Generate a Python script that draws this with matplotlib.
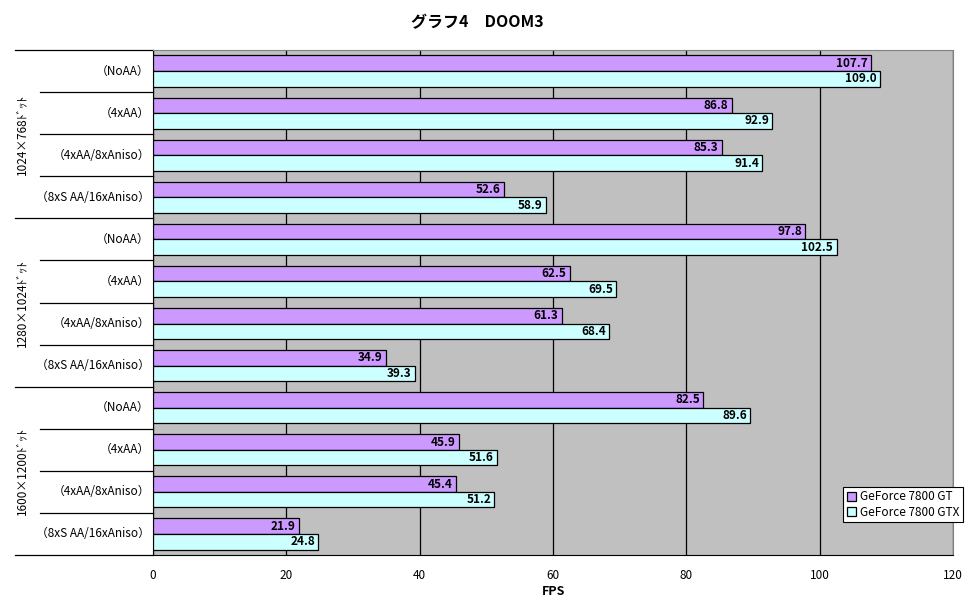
import matplotlib
matplotlib.use("Agg")
from matplotlib import pyplot as plt
from matplotlib import transforms
import numpy as np

plt.rcParams['font.family'] = ['Noto Sans CJK JP', 'DejaVu Sans']

groups = ['1024×768ﾄﾞｯﾄ', '1280×1024ﾄﾞｯﾄ', '1600×1200ﾄﾞｯﾄ']
settings = ['（NoAA）', '（4xAA）', '（4xAA/8xAniso）', '（8xS AA/16xAniso）']
gt = [107.7, 86.8, 85.3, 52.6,
      97.8, 62.5, 61.3, 34.9,
      82.5, 45.9, 45.4, 21.9]
gtx = [109.0, 92.9, 91.4, 58.9,
       102.5, 69.5, 68.4, 39.3,
       89.6, 51.6, 51.2, 24.8]
series_names = ['GeForce 7800 GT', 'GeForce 7800 GTX']

fig = plt.figure(figsize=(9.7, 6.04), dpi=100)
ax = fig.add_axes([0.1577, 0.0811, 0.825, 0.8361])
ax.set_facecolor('#C0C0C0')

n = len(gt)
y = np.arange(n)
h = 0.37
b1 = ax.barh(y - h / 2, gt, height=h, color='#CC99FF', edgecolor='black', linewidth=0.9,
             label=series_names[0], zorder=3)
b2 = ax.barh(y + h / 2, gtx, height=h, color='#CCFFFF', edgecolor='black', linewidth=0.9,
             label=series_names[1], zorder=3)

# value labels at bar ends
for bars, vals in ((b1, gt), (b2, gtx)):
    for r, v in zip(bars, vals):
        ax.text(v - 0.5, r.get_y() + r.get_height() / 2, '%.1f' % v, ha='right', va='center',
                fontsize=8.5, fontweight='bold', zorder=4)

ax.set_xlim(0, 120)
ax.set_ylim(n - 0.5, -0.5)
ax.set_xticks(np.arange(0, 121, 20))
ax.tick_params(axis='x', length=0, pad=10, labelsize=8.5)
ax.set_yticks([])
ax.grid(axis='x', color='black', linewidth=0.9, zorder=1)
ax.set_axisbelow(True)
for s in ('top', 'right'):
    ax.spines[s].set_color('#808080')
ax.spines['left'].set_color('black')
ax.spines['bottom'].set_color('black')

ax.set_xlabel('FPS', fontsize=9, fontweight='bold', labelpad=2)
fig.text(0.492, 0.963, 'グラフ4　DOOM3', fontsize=11.5, fontweight='bold', ha='center', va='center')

# category labels and separator lines on the left
trans = transforms.blended_transform_factory(ax.transAxes, ax.transData)
for i in range(n):
    ax.text(-0.004, i, settings[i % 4], transform=trans, ha='right', va='center', fontsize=8.5)
for k in range(n + 1):
    x0 = -0.1725 if k % 4 == 0 else -0.141
    ax.plot([x0, 0], [k - 0.5, k - 0.5], transform=trans, color='black', linewidth=0.9,
            clip_on=False)
for g, name in enumerate(groups):
    ax.text(-0.164, g * 4 + 1.5, name, transform=trans, rotation=90, ha='center', va='center',
            fontsize=8.5)

leg = ax.legend(loc='lower right', bbox_to_anchor=(1.012, 0.065), fontsize=8.5, frameon=True,
                fancybox=False, edgecolor='black', framealpha=1, handlelength=0.8,
                handleheight=0.8, handletextpad=0.3, borderpad=0.3, labelspacing=0.2,
                borderaxespad=0)
leg.get_frame().set_linewidth(0.8)

fig.savefig('out.png', dpi=100)
